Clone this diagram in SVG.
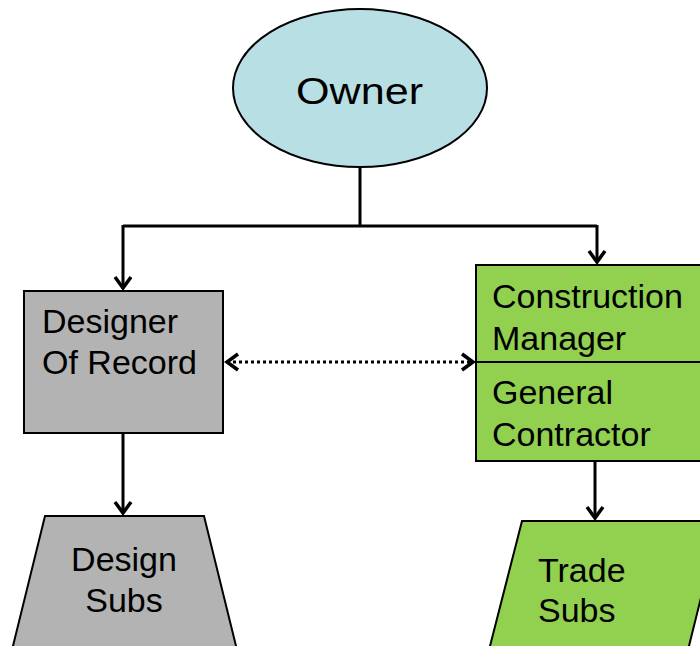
<svg xmlns="http://www.w3.org/2000/svg" width="700" height="646" viewBox="0 0 700 646">
  <style>
    .lbl { font-family: "Liberation Sans", Arial, sans-serif; fill: #000; font-size: 34px; }
    .box { stroke: #000; stroke-width: 2; }
    .gray { fill: #b3b3b3; }
    .green { fill: #92d050; }
    .wire { fill: none; stroke: #000; stroke-width: 3; }
  </style>
  <defs>
    <!-- open chevron arrowhead, shared by every connector -->
    <marker id="chev" viewBox="0 0 20 20" refX="15" refY="10" markerWidth="20" markerHeight="20" markerUnits="userSpaceOnUse" orient="auto-start-reverse">
      <path d="M4,2 L15,10 L4,18" fill="none" stroke="#000" stroke-width="3.5" stroke-linejoin="miter"/>
    </marker>
  </defs>
  <rect width="700" height="646" fill="#fff"/>

  <g id="connectors">
    <path class="wire" d="M360,167 V226"/>
    <path class="wire" d="M123,226 H597"/>
    <path class="wire" d="M123,225 V288" marker-end="url(#chev)"/>
    <path class="wire" d="M597,225 V262" marker-end="url(#chev)"/>
    <path class="wire" d="M123,433 V513" marker-end="url(#chev)"/>
    <path class="wire" d="M595,461 V518" marker-end="url(#chev)"/>
    <path class="wire" d="M227,362 H473" stroke-dasharray="3,3" marker-start="url(#chev)" marker-end="url(#chev)"/>
  </g>

  <g id="owner">
    <ellipse class="box" cx="360" cy="88" rx="127" ry="79" fill="#b8dfe3"/>
    <text class="lbl" x="296" y="104" style="font-size:37px" textLength="127" lengthAdjust="spacingAndGlyphs">Owner</text>
  </g>

  <g id="designer">
    <rect class="box gray" x="24" y="291" width="199" height="142"/>
    <text class="lbl" x="42" y="333">Designer</text>
    <text class="lbl" x="42" y="374">Of Record</text>
  </g>

  <g id="cm-gc">
    <rect class="box green" x="476" y="265" width="240" height="196"/>
    <line x1="476" y1="362" x2="700" y2="362" stroke="#000" stroke-width="2"/>
    <text class="lbl" x="492" y="308">Construction</text>
    <text class="lbl" x="492" y="350">Manager</text>
    <text class="lbl" x="492" y="404">General</text>
    <text class="lbl" x="492" y="446">Contractor</text>
  </g>

  <g id="design-subs">
    <polygon class="box gray" points="45,516 204,516 237,650 12,650"/>
    <text class="lbl" x="124" y="571" text-anchor="middle">Design</text>
    <text class="lbl" x="124" y="612" text-anchor="middle">Subs</text>
  </g>

  <g id="trade-subs">
    <polygon class="box green" points="522,521 720,521 688,650 489,650"/>
    <text class="lbl" x="538" y="582">Trade</text>
    <text class="lbl" x="538" y="622">Subs</text>
  </g>
</svg>
